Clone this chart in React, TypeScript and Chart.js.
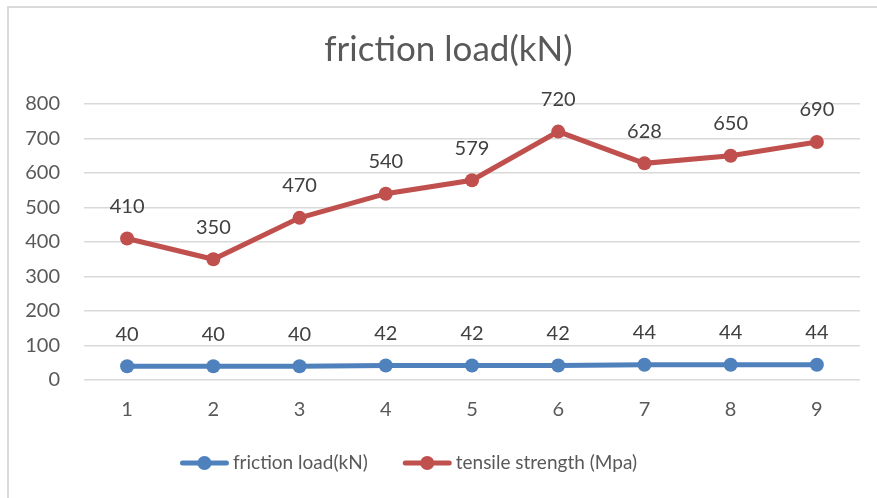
import React, { useEffect, useRef } from "react";
import { Chart, registerables } from "chart.js";

Chart.register(...registerables);

const categories = ["1", "2", "3", "4", "5", "6", "7", "8", "9"];
const frictionLoad = [40, 40, 40, 42, 42, 42, 44, 44, 44];
const tensileStrength = [410, 350, 470, 540, 579, 720, 628, 650, 690];
const seriesNames = ["friction load(kN)", "tensile strength (Mpa)"];
const titleText = "friction load(kN)";

const BLUE = "#4F81BD";
const RED = "#C0504D";
const FONT = "Lato, 'Open Sans', sans-serif";
const TEXT = "#595959";

const dataLabelPlugin = {
  id: "dataLabels",
  afterDatasetsDraw(chart: any) {
    const ctx = chart.ctx;
    ctx.save();
    ctx.font = `20px ${FONT}`;
    ctx.fillStyle = "#404040";
    ctx.textAlign = "center";
    ctx.textBaseline = "middle";
    chart.data.datasets.forEach((ds: any, i: number) => {
      const meta = chart.getDatasetMeta(i);
      meta.data.forEach((pt: any, j: number) => {
        ctx.fillText(String(ds.data[j]), pt.x, pt.y - 32);
      });
    });
    ctx.restore();
  },
};

const titlePlugin = {
  id: "customTitle",
  afterDraw(chart: any) {
    const ctx = chart.ctx;
    ctx.save();
    ctx.font = `35px ${FONT}`;
    ctx.fillStyle = TEXT;
    ctx.textAlign = "center";
    ctx.textBaseline = "middle";
    ctx.fillText(titleText, 448.5, 50);
    ctx.restore();
  },
};

const legendPlugin = {
  id: "customLegend",
  afterDraw(chart: any) {
    const ctx = chart.ctx;
    ctx.save();
    ctx.font = `19px ${FONT}`;
    const markerW = 49;
    const gap = 4;
    const itemGap = 35;
    const items = chart.data.datasets.map((ds: any) => ({
      text: ds.label,
      color: ds.borderColor,
      w: ctx.measureText(ds.label).width,
    }));
    const total =
      items.reduce((s: number, it: any) => s + markerW + gap + it.w, 0) + itemGap * (items.length - 1);
    let x = 408.5 - total / 2;
    const y = 463;
    items.forEach((it: any) => {
      ctx.strokeStyle = it.color;
      ctx.lineWidth = 5;
      ctx.lineCap = "round";
      ctx.beginPath();
      ctx.moveTo(x + 2.5, y);
      ctx.lineTo(x + markerW - 2.5, y);
      ctx.stroke();
      ctx.fillStyle = it.color;
      ctx.beginPath();
      ctx.arc(x + markerW / 2, y, 7, 0, Math.PI * 2);
      ctx.fill();
      ctx.fillStyle = TEXT;
      ctx.textAlign = "left";
      ctx.textBaseline = "middle";
      ctx.fillText(it.text, x + markerW + gap, y);
      x += markerW + gap + it.w + itemGap;
    });
    ctx.restore();
  },
};

export default function App() {
  const ref = useRef<HTMLCanvasElement | null>(null);

  useEffect(() => {
    if (!ref.current) return;
    const chart = new Chart(ref.current, {
      type: "line",
      data: {
        labels: categories,
        datasets: [
          {
            label: seriesNames[0],
            data: frictionLoad,
            borderColor: BLUE,
            backgroundColor: BLUE,
            borderWidth: 5,
            pointRadius: 7,
            pointHoverRadius: 7,
            pointBackgroundColor: BLUE,
            pointBorderWidth: 0,
            tension: 0,
          },
          {
            label: seriesNames[1],
            data: tensileStrength,
            borderColor: RED,
            backgroundColor: RED,
            borderWidth: 5,
            pointRadius: 7,
            pointHoverRadius: 7,
            pointBackgroundColor: RED,
            pointBorderWidth: 0,
            tension: 0,
          },
        ],
      },
      options: {
        responsive: false,
        animation: false,
        layout: { padding: { top: 104, right: 17, bottom: 58, left: 0 } },
        plugins: {
          title: { display: false },
          legend: { display: false },
          tooltip: { enabled: false },
        },
        scales: {
          x: {
            offset: true,
            grid: { display: false, drawTicks: false },
            border: { display: false },
            ticks: {
              color: TEXT,
              font: { family: FONT, size: 20 },
              padding: 18,
            },
          },
          y: {
            min: 0,
            max: 800,
            grid: { color: "#d9d9d9", lineWidth: 1.5, drawTicks: false },
            border: { display: false },
            ticks: {
              stepSize: 100,
              color: TEXT,
              font: { family: FONT, size: 20 },
              padding: 24,
            },
            afterFit: (scale: any) => {
              scale.width = 84;
            },
          },
        },
      },
      plugins: [dataLabelPlugin, titlePlugin, legendPlugin],
    });
    return () => chart.destroy();
  }, []);

  return (
    <div style={{ position: "absolute", left: 0, top: 0, width: 877, height: 498, overflow: "hidden", background: "#fff" }}>
      <div
        style={{
          position: "absolute",
          left: 7,
          top: 6,
          width: 1000,
          height: 1000,
          borderTop: "2px solid #d9d9d9",
          borderLeft: "2px solid #d9d9d9",
        }}
      />
      <canvas ref={ref} width={877} height={498} style={{ position: "absolute", left: 0, top: 0 }} />
    </div>
  );
}
